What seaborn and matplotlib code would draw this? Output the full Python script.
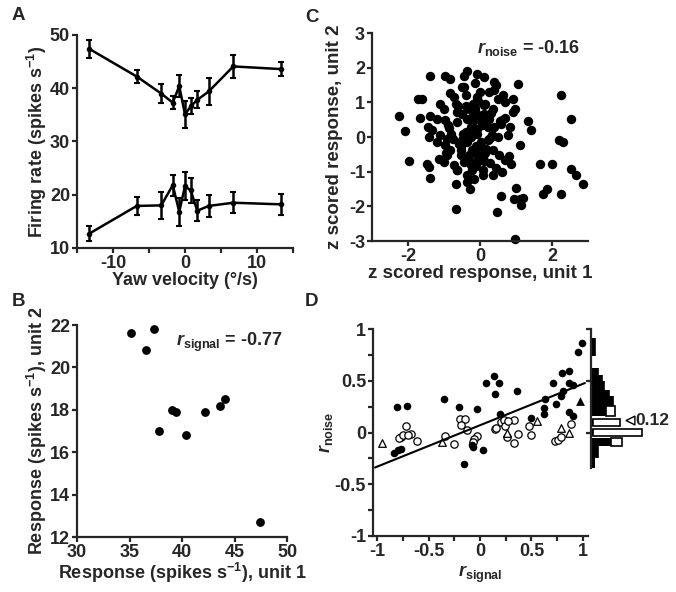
import numpy as np
import pandas as pd
import matplotlib
matplotlib.use("Agg")
import matplotlib.pyplot as plt
from matplotlib.ticker import MultipleLocator, FuncFormatter
import seaborn as sns

# panel A / B : tuning of two units
yaw_vel = [-13.3, -6.7, -3.3, -1.7, -0.8, 0.0, 0.8, 1.7, 3.3, 6.7, 13.3]
unit1_rate = [47.4, 42.2, 39.0, 37.3, 40.4, 35.1, 36.6, 37.8, 39.4, 44.1, 43.6]
unit1_err = [1.7, 1.3, 1.8, 1.2, 2.0, 2.5, 1.5, 1.6, 2.5, 2.2, 1.3]
unit2_rate = [12.7, 17.9, 18.0, 21.8, 16.8, 21.6, 20.8, 17.0, 17.9, 18.5, 18.2]
unit2_err = [1.4, 1.7, 2.5, 2.0, 2.6, 2.6, 2.4, 2.0, 2.0, 2.0, 2.0]

# panel C : z scored trial responses
z_unit1 = [-2.24, -2.08, -1.96, -1.71, -1.62, -1.66, -1.38, -1.38, -1.45, -1.43, -1.47, -1.43, -1.38,
           -0.68, -0.68, -0.27, 0.47, 0.59, 0.97, 1.01, 0.95, 1.10, 1.15, 1.20, 1.06, 1.34, 1.42, 1.10,
           1.68, 2.00, 1.74, 1.86, 2.24, 2.26, 2.52, 2.19, 2.30, 2.52, 2.66, 2.86,
           -0.96, -0.82, -0.35, -0.44, -0.07, 0.12, 0.40, -0.49, -0.39, -0.82, -0.72, -0.07, -0.11, 0.12,
           0.40, 0.50, 0.64, 0.69, 0.92, 0.97, 0.92, -1.10, -1.00, -0.63, -0.49, -0.35, -0.02, 0.12, 0.26,
           -1.19, -0.96, -1.33, -0.63, -0.25, -0.07, 0.22, 0.40, 0.59, 0.83, -1.10, -0.91, -1.19, -0.96,
           -0.49, -0.25, -0.07, 0.03, 0.22, 0.50, 0.78, -0.82, -0.54, -0.21, 0.12, 0.36, 0.54, 0.69, 0.87,
           -1.15, -1.00, -0.91, -0.72, -0.63, -0.44, -0.25, -0.07, 0.08, 0.36, -0.35, -0.16, 0.08, -0.54,
           -0.30, -0.07, -0.30, -0.15, 0.05, -0.40, -0.20, 0.30, -0.55, -0.10, 0.15, -0.80, -0.60, 0.25,
           -0.45, 0.00, 0.55, 0.70, -0.90, -0.20, 0.10, 0.45, -0.65, -0.35, 0.30, 0.60,
           -0.15, 0.05, -0.25, 0.20, -0.05, -0.35, 0.15, -0.12, 0.32, -0.48, -0.20, 0.08, -0.30, 0.25,
           -0.58, -0.75, -0.10, 0.02, -0.40, 0.18, -0.85, -0.22, 0.35, -0.05, 0.62, -0.68, 0.80, -0.15,
           0.45, -0.95, 0.28, -0.52]
z_unit2 = [0.60, 0.17, -0.69, 1.10, 1.10, 0.55, 1.77, 0.62, 0.29, 0.00, -0.77, -0.86, -1.17,
           -2.07, -1.37, -1.49, -2.15, -1.70, -2.95, -1.47, -1.80, -1.80, -1.95, -1.76, 1.54, 0.45, 0.19,
           -0.24, -0.77, -0.77, -1.63, -1.51, -1.63, 1.20, 0.51, -0.10, -0.14, -0.91, -1.09, -1.35,
           1.77, 1.68, 1.89, 1.76, 1.82, 1.73, 1.59, 1.44, 1.20, 1.28, 1.15, 1.15, 1.01, 0.91,
           1.35, 1.10, 1.20, 1.01, 1.10, 0.82, 0.72, 0.96, 0.82, 0.72, 0.67, 0.53, 0.62, 0.67, 0.53,
           0.53, 0.48, 0.19, 0.43, 0.29, 0.24, 0.29, 0.29, 0.38, 0.29, 0.05, -0.05, -0.14, -0.24,
           -0.10, 0.00, 0.10, -0.14, -0.10, 0.00, 0.05, -0.38, -0.38, -0.38, -0.34, -0.38, -0.53, -0.67, -0.77,
           -0.63, -0.72, -0.53, -0.82, -0.96, -0.72, -0.82, -0.72, -0.96, -1.10, -1.10, -1.20, -1.10, -0.53,
           -0.53, -0.53, 0.80, 0.85, 0.40, 0.15, 0.60, 0.70, -0.20, -0.25, 0.95, 0.10, 0.90, -0.05,
           1.45, 1.30, 0.45, 0.55, 0.35, 0.95, -0.70, -0.90, -0.95, -1.30, 0.00, -1.00,
           0.20, 0.35, 0.15, 0.50, -0.30, -0.15, -0.45, 0.70, 0.05, 0.10, 0.45, -0.60, -0.65, 1.30,
           -0.20, -0.05, -0.85, 0.45, 0.90, -0.35, 0.25, -0.95, 0.80, 1.05, 0.50, 0.95, -0.55, 1.55,
           1.50, -0.45, -0.75, -0.25]

# panel D : noise vs signal correlation for each pair
filled_sig = [-0.84, -0.80, -0.77, -0.81, -0.71, -0.35, -0.20, -0.03, -0.16, -0.08, -0.065, 0.03,
              0.06, 0.135, 0.18, 0.15, 0.36, 0.19, 0.50, 0.63, 0.62, 0.62, 0.71, 0.80, 0.87, 0.865,
              0.90, 0.81, 0.79, 0.74, 0.865, 0.90, 0.95, 0.99]
filled_noise = [-0.20, -0.17, -0.16, 0.25, 0.26, 0.32, 0.245, 0.23, -0.30, -0.12, -0.14, -0.17,
                0.48, 0.55, 0.48, 0.375, 0.40, 0.18, 0.14, 0.32, 0.235, 0.18, 0.48, 0.575, 0.59, 0.48,
                0.46, 0.40, 0.35, 0.275, 0.20, 0.16, 0.78, 0.865]
open_sig = [-0.72, -0.77, -0.79, -0.75, -0.67, -0.70, -0.61, -0.34, -0.25, -0.19, -0.145, -0.18,
            -0.13, -0.03, -0.06, -0.07, 0.15, 0.16, 0.20, 0.23, 0.24, 0.26, 0.33, 0.33, 0.37, 0.48,
            0.50, 0.73, 0.76, 0.79, 0.88, 0.27]
open_noise = [0.065, -0.04, -0.05, -0.02, -0.01, -0.02, -0.08, -0.03, -0.11, 0.13, 0.13, 0.075,
              0.025, -0.03, -0.06, -0.09, 0.03, 0.04, 0.10, 0.12, 0.06, -0.04, 0.12, -0.10, -0.01, 0.06,
              -0.02, -0.08, -0.07, -0.04, 0.085, 0.11]
open_tri_sig = [-0.95, -0.37, 0.26, 0.55, 0.79, 0.87]
open_tri_noise = [-0.10, -0.09, -0.005, 0.11, 0.04, 0.00]
filled_tri_sig = [0.97]
filled_tri_noise = [0.30]
fit_slope = 0.40
fit_intercept = 0.07
mean_noise = 0.12

# marginal histogram of r_noise (bin edges, filled and open counts)
hist_lo = [0.736, 0.558, 0.494, 0.413, 0.349, 0.252, 0.155, 0.058, -0.038, -0.135, -0.248]
hist_hi = [0.913, 0.623, 0.558, 0.494, 0.413, 0.349, 0.252, 0.129, 0.036, -0.054, -0.135]
hist_filled = [2, 3, 5, 6, 8, 10, 7, 1, 1, 9, 3]
hist_open = [0, 0, 0, 0, 0, 0, 4, 12, 22, 5, 0]
hist_tail_lo = [-0.345]
hist_tail_hi = [-0.248]
hist_tail_filled = [2]

sns.set_theme(style="ticks")
plt.rcParams['font.family'] = ['Liberation Sans', 'DejaVu Sans']
plt.rcParams.update({
    'font.weight': 'bold', 'axes.labelweight': 'bold', 'font.size': 13,
    'axes.labelsize': 13, 'xtick.labelsize': 13, 'ytick.labelsize': 13,
    'axes.unicode_minus': False, 'axes.linewidth': 1.6,
    'xtick.major.width': 1.6, 'ytick.major.width': 1.6,
    'xtick.minor.width': 1.6, 'ytick.minor.width': 1.6,
    'xtick.major.size': 3.5, 'ytick.major.size': 3.5,
    'xtick.minor.size': 3.5, 'ytick.minor.size': 3.5,
    'xtick.major.pad': 1.5, 'ytick.major.pad': 1.5,
    'mathtext.fontset': 'custom', 'mathtext.it': 'Liberation Sans:italic:bold',
    'mathtext.bf': 'Liberation Sans:bold', 'mathtext.rm': 'Liberation Sans:bold',
    'mathtext.default': 'it',
})

fig = plt.figure(figsize=(6.76, 5.92), dpi=100)
W, H = 676.0, 592.0


def box(l, t, r, b):
    return [l / W, 1 - b / H, (r - l) / W, (b - t) / H]


axA = fig.add_axes(box(77, 35, 293, 248))
axB = fig.add_axes(box(77, 325, 287, 537))
axC = fig.add_axes(box(372, 33, 588, 241))
axD = fig.add_axes(box(373, 329, 588, 536))
axH = fig.add_axes(box(591, 329, 676, 536))
gfmt = FuncFormatter(lambda v, p: "%g" % v)

# ---- A
dfA = pd.DataFrame({'vel': yaw_vel, 'u1': unit1_rate, 'u2': unit2_rate})
for col, err in [('u1', unit1_err), ('u2', unit2_err)]:
    sns.lineplot(data=dfA, x='vel', y=col, ax=axA, color='black', lw=1.8,
                 marker='o', markersize=4, markeredgewidth=0)
    axA.errorbar(yaw_vel, dfA[col], yerr=err, fmt='none', ecolor='black',
                 elinewidth=1.8, capsize=2.5, capthick=1.5)
axA.set_xlim(-15, 15)
axA.set_ylim(10, 50)
axA.xaxis.set_major_locator(MultipleLocator(10))
axA.xaxis.set_minor_locator(MultipleLocator(5))
axA.yaxis.set_major_locator(MultipleLocator(10))
axA.set_xlabel('Yaw velocity (°/s)', labelpad=0)
axA.set_ylabel(r'Firing rate (spikes s$^{\mathbf{-1}}$)', labelpad=1)

# ---- B
sns.scatterplot(x=unit1_rate, y=unit2_rate, ax=axB, color='black', s=40, linewidth=0)
axB.set_xlim(30, 50)
axB.set_ylim(12, 22)
axB.xaxis.set_major_locator(MultipleLocator(5))
axB.yaxis.set_major_locator(MultipleLocator(2))
axB.set_xlabel(r'Response (spikes s$^{\mathbf{-1}}$), unit 1', labelpad=0)
axB.set_ylabel(r'Response (spikes s$^{\mathbf{-1}}$), unit 2', labelpad=1)
axB.text(0.47, 0.92, r'$r_{\mathbf{signal}}$ = -0.77', transform=axB.transAxes,
         fontsize=13, fontweight='bold', va='center', ha='left')

# ---- C
sns.scatterplot(x=z_unit1, y=z_unit2, ax=axC, color='black', s=46, linewidth=0, clip_on=False)
axC.set_xlim(-3, 3)
axC.set_ylim(-3, 3)
axC.set_xticks([-2, 0, 2])
axC.yaxis.set_major_locator(MultipleLocator(1))
axC.set_xlabel('z scored response, unit 1', labelpad=0, fontsize=13.5)
axC.set_ylabel('z scored response, unit 2', labelpad=4, fontsize=13.5)
axC.text(0.485, 0.928, r'$r_{\mathbf{noise}}$ = -0.16', transform=axC.transAxes,
         fontsize=13, fontweight='bold', va='center', ha='left')

# ---- D
sns.scatterplot(x=open_sig, y=open_noise, ax=axD, facecolor='white', edgecolor='black',
                s=28, linewidth=0.9, clip_on=False, zorder=3)
sns.scatterplot(x=open_tri_sig, y=open_tri_noise, ax=axD, marker='^', facecolor='white',
                edgecolor='black', s=30, linewidth=0.9, clip_on=False, zorder=3)
sns.scatterplot(x=filled_sig, y=filled_noise, ax=axD, color='black', s=30, linewidth=0,
                clip_on=False, zorder=4)
sns.scatterplot(x=filled_tri_sig, y=filled_tri_noise, ax=axD, marker='^', color='black',
                s=40, linewidth=0, clip_on=False, zorder=4)
fx = np.array([-1.02, 1.02])
axD.plot(fx, fit_intercept + fit_slope * fx, color='black', lw=1.5, zorder=5)
axD.set_xlim(-1.04, 1.05)
axD.set_ylim(-1, 1)
axD.xaxis.set_major_locator(MultipleLocator(0.5))
axD.xaxis.set_minor_locator(MultipleLocator(0.25))
axD.yaxis.set_major_locator(MultipleLocator(0.5))
axD.yaxis.set_minor_locator(MultipleLocator(0.25))
axD.xaxis.set_major_formatter(gfmt)
axD.yaxis.set_major_formatter(gfmt)
axD.set_xlabel(r'$r_{\mathbf{signal}}$', labelpad=3)
axD.set_ylabel(r'$r_{\mathbf{noise}}$', labelpad=0)

# ---- marginal histogram
lo = np.array(hist_lo)
hi = np.array(hist_hi)
axH.barh((lo + hi) / 2, hist_filled, height=hi - lo, color='black', edgecolor='black', lw=0)
axH.barh((lo + hi) / 2, hist_open, left=hist_filled, height=hi - lo, color='white',
         edgecolor='black', lw=1.2)
tlo = np.array(hist_tail_lo)
thi = np.array(hist_tail_hi)
axH.barh((tlo + thi) / 2, hist_tail_filled, height=thi - tlo, color='black', lw=0)
axH.set_xlim(0, 38.5)
axH.set_ylim(-1, 1)
axH.scatter([17.5], [mean_noise], marker='<', s=40, facecolor='white', edgecolor='black',
            linewidth=1.0, zorder=5)
axH.text(20.0, mean_noise, '0.12', fontsize=12.5, fontweight='bold', va='center', ha='left')
axH.set_yticks([0, 0.5, 1])
axH.tick_params(axis='y', labelleft=False)
axH.tick_params(axis='x', bottom=False, labelbottom=False)
sns.despine(ax=axH, bottom=True)
axH.spines['left'].set_bounds(-0.345, 1)

for ax in (axA, axB, axC, axD):
    sns.despine(ax=ax)

for lab, x, y in [('A', 12, 15), ('B', 12, 301), ('C', 305, 17), ('D', 305, 302)]:
    fig.text(x / W, 1 - y / H, lab, fontsize=13.5, fontweight='bold', va='center', ha='left')

fig.savefig('out.png', dpi=100)
